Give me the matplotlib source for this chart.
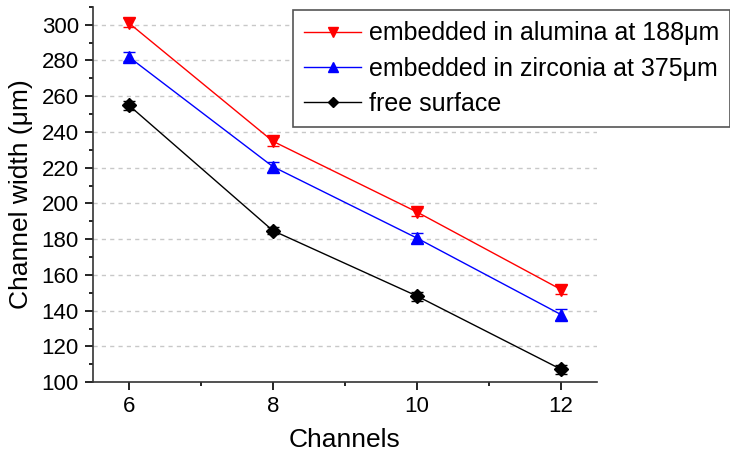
import matplotlib
matplotlib.use("Agg")
import matplotlib.pyplot as plt
from matplotlib.ticker import MultipleLocator
from matplotlib.lines import Line2D

plt.rcParams['font.family'] = ['Liberation Sans', 'DejaVu Sans']

channels = [6, 8, 10, 12]
alumina = [301, 234.8, 195.2, 151.8]
alumina_err = [2.5, 2.5, 2.5, 2.5]
zirconia = [282, 220.6, 180.6, 137.8]
zirconia_err = [2.5, 2.8, 2.8, 3.0]
free = [255, 184.8, 148.2, 107.2]
free_err = [2.5, 2.0, 2.5, 2.5]

labels = ["embedded in alumina at 188\u03bcm",
          "embedded in zirconia at 375\u03bcm",
          "free surface"]

fig = plt.figure(figsize=(7.3, 4.55), dpi=100)
ax = fig.add_axes([0.127, 0.160, 0.691, 0.825])

series = [(alumina, alumina_err, 'red', 'v', 8.5, labels[0]),
          (zirconia, zirconia_err, 'blue', '^', 8.5, labels[1]),
          (free, free_err, 'black', 'D', 7, labels[2])]
handles = []
for vals, err, col, mk, ms, lab in series:
    ax.errorbar(channels, vals, yerr=err, color=col, marker=mk,
                markersize=ms, linewidth=1, elinewidth=1,
                capsize=4, capthick=1)
    handles.append(Line2D([], [], color=col, marker=mk, linewidth=1,
                          markersize=ms * 0.8, label=lab))

ax.set_xlim(5.5, 12.5)
ax.set_ylim(100, 310)
ax.xaxis.set_major_locator(MultipleLocator(2))
ax.xaxis.set_minor_locator(MultipleLocator(1))
ax.yaxis.set_major_locator(MultipleLocator(20))
ax.yaxis.set_minor_locator(MultipleLocator(10))
ax.tick_params(which='both', direction='out', width=1.2, labelsize=16)
ax.tick_params(which='major', length=6, pad=4)
ax.tick_params(which='minor', length=3)
for s in ['top', 'right']:
    ax.spines[s].set_visible(False)
for s in ['left', 'bottom']:
    ax.spines[s].set_linewidth(1.2)
    ax.spines[s].set_color('#333333')

for yv in range(120, 301, 20):
    ax.axhline(yv, color='#c8c8c8', linestyle=(0, (3, 3)), linewidth=1, zorder=0)

ax.set_xlabel("Channels", fontsize=19, labelpad=8)
ax.set_ylabel("Channel width (\u03bcm)", fontsize=19, labelpad=6)

leg = ax.legend(handles=handles, loc='upper left', bbox_to_anchor=(0.401, 0.978),
                bbox_transform=fig.transFigure, borderaxespad=0,
                fontsize=18, fancybox=False, framealpha=1,
                handlelength=2.3, handletextpad=0.3, labelspacing=0.45,
                borderpad=0.45)
leg.get_frame().set_edgecolor('#555555')
leg.get_frame().set_linewidth(1.2)

fig.savefig("out.png", dpi=100)
